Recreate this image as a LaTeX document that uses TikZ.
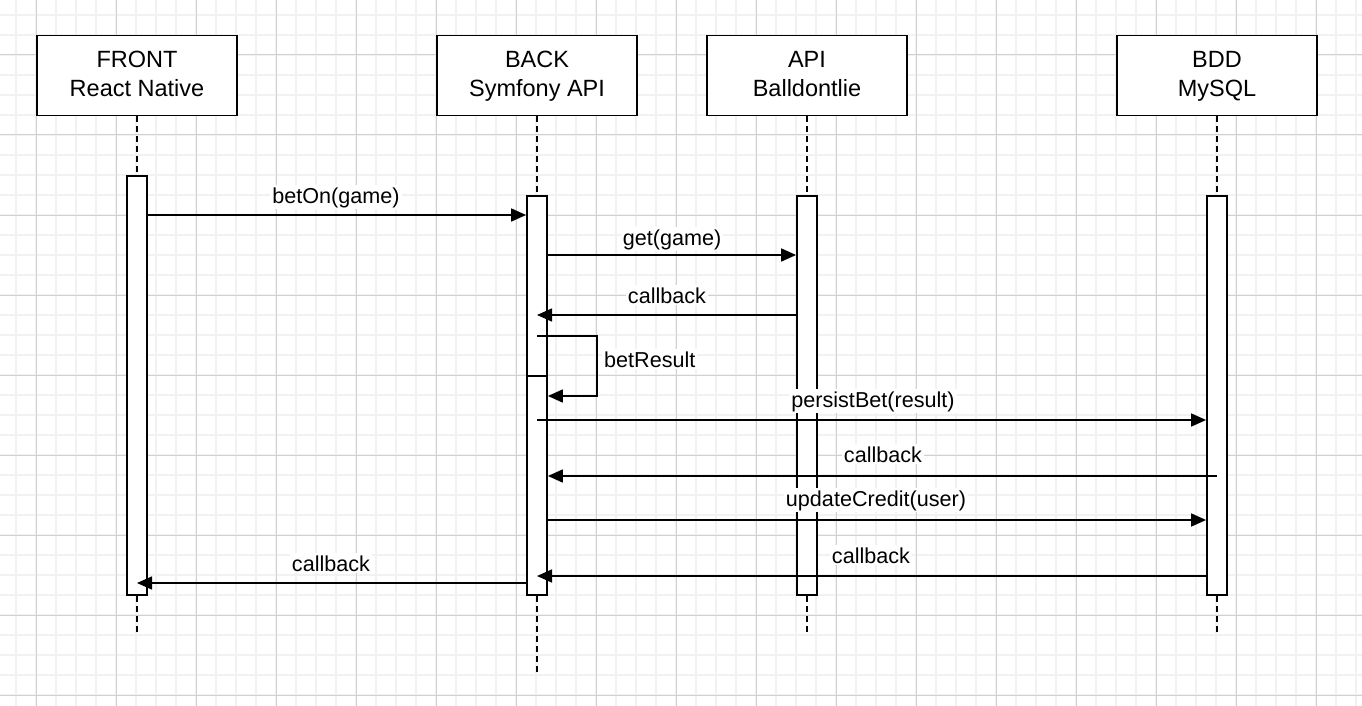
\documentclass[tikz,border=0pt]{standalone}
\usepackage{fontspec}
\setmainfont{Liberation Sans}
\usetikzlibrary{arrows.meta}

\begin{document}
\begin{tikzpicture}[x=1pt, y=-1pt,
  minor/.style={black!5, line width=1.2pt},
  major/.style={black!18, line width=1pt},
  actor/.style={draw, line width=1.8pt, fill=white, minimum width=200pt, minimum height=80pt, align=center,
    font=\fontsize{23.5}{29}\selectfont, text height=51pt, text depth=8pt},
  act/.style={draw, line width=1.8pt, fill=white, minimum width=20pt, inner sep=0pt},
  life/.style={line width=1.6pt, dash pattern=on 6pt off 4pt},
  call/.style={line width=1.6pt, -{Triangle[length=15pt, width=13pt]}},
  lbl/.style={fill=white, inner sep=2pt, anchor=base, font=\fontsize{21.6}{26}\selectfont}]
\useasboundingbox (0,0) rectangle (1362,706);
\fill[white] (0,0) rectangle (1362,706);
\foreach \x in {16,36,...,1356} \draw[minor] (\x,0) -- (\x,706);
\foreach \y in {15,35,...,695} \draw[minor] (0,\y) -- (1362,\y);
\foreach \x in {36,116,...,1316} \draw[major] (\x,0) -- (\x,706);
\foreach \y in {55,135,...,695} \draw[major] (0,\y) -- (1362,\y);

\node[actor] (front) at (137,75.5) {FRONT\\React Native};
\node[actor] (back) at (537,75.5) {BACK\\Symfony API};
\node[actor] (api) at (807,75.5) {API\\Balldontlie};
\node[actor] (bdd) at (1217,75.5) {BDD\\MySQL};

\coordinate (fend) at (137,635);
\coordinate (bend) at (537,675);
\coordinate (aend) at (807,635);
\coordinate (dend) at (1217,635);
\draw[life] (front.south) -- (fend);
\draw[life] (back.south) -- (bend);
\draw[life] (api.south) -- (aend);
\draw[life] (bdd.south) -- (dend);

\node[act, minimum height=419pt] (fa) at (137,385.5) {};
\node[act, minimum height=399pt] (ba) at (537,395.5) {};
\node[act, minimum height=219pt] (bb) at (537,485.5) {};
\node[act, minimum height=399pt] (aa) at (807,395.5) {};
\node[act, minimum height=399pt] (da) at (1217,395.5) {};

\coordinate (y1) at (0,215);
\coordinate (y2) at (0,255);
\coordinate (y3) at (0,315);
\coordinate (y4) at (0,336);
\coordinate (loop) at (597,336);
\coordinate (y4b) at (0,396);
\coordinate (y5) at (0,420);
\coordinate (y6) at (0,476);
\coordinate (y7) at (0,520);
\coordinate (y8) at (0,576);
\coordinate (y9) at (0,583);

\draw[call] (fa.east |- y1) -- (ba.west |- y1);
\draw[call] (ba.east |- y2) -- (aa.west |- y2);
\draw[call] (aa.west |- y3) -- (ba |- y3);
\draw[call] (ba |- y4) -- (loop) |- (bb.east |- y4b);
\draw[call] (ba |- y5) -- (da.west |- y5);
\draw[call] (da |- y6) -- (ba.east |- y6);
\draw[call] (ba.east |- y7) -- (da.west |- y7);
\draw[call] (da.west |- y8) -- (ba |- y8);
\draw[call] (ba.west |- y9) -- (fa |- y9);

\node[lbl] (l1) at (336,203) {betOn(game)};
\node[lbl] (l2) at (672,245) {get(game)};
\node[lbl] (l3) at (667,303) {callback};
\node[lbl, anchor=base west] (l4) at (602,367) {betResult};
\node[lbl] (l5) at (873,407) {persistBet(result)};
\node[lbl] (l6) at (883,462) {callback};
\node[lbl] (l7) at (876,506) {updateCredit(user)};
\node[lbl] (l8) at (871,563) {callback};
\node[lbl] (l9) at (331,571) {callback};
\end{tikzpicture}
\end{document}
